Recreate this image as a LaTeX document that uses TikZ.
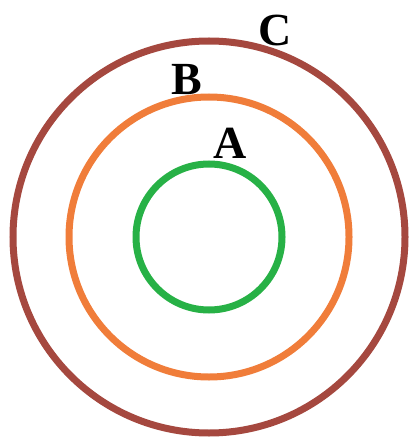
\documentclass[tikz,border=0pt]{standalone}
\usepackage{fontspec}
\setmainfont{Liberation Serif}
\usetikzlibrary{positioning}
\definecolor{ringgreen}{HTML}{27B146}
\definecolor{ringorange}{HTML}{F07D3A}
\definecolor{ringbrown}{HTML}{A5483F}

\begin{document}
\begin{tikzpicture}[x=1pt, y=-1pt,
    ring/.style={draw, line width=7pt, fill=none},
    lbl/.style={font=\fontsize{46}{50}\selectfont\bfseries, inner sep=0pt}]
  \useasboundingbox (0,0) rectangle (411,438);

  \coordinate (o) at (209,237);

  \draw[ring, ringbrown] (o) circle[radius=196];
  \draw[ring, ringorange] (o) circle[radius=140];
  \draw[ring, ringgreen] (o) circle[radius=73];

  \node[lbl] (a) at (230,143) {A};
  \node[lbl] (b) at (187,80) {B};
  \node[lbl] (c) at (275,30) {C};
\end{tikzpicture}
\end{document}
